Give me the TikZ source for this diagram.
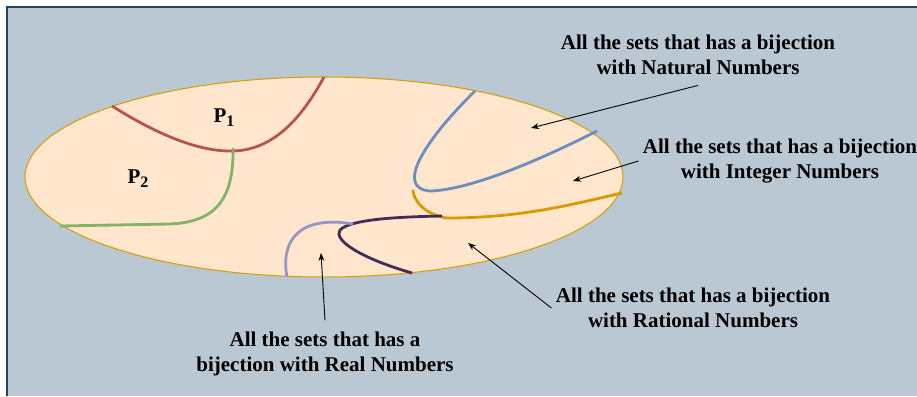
\documentclass[tikz,border=0pt]{standalone}
\usepackage{fontspec}
\setmainfont{Liberation Serif}
\usetikzlibrary{arrows.meta, positioning}
\definecolor{cpanel}{HTML}{BAC8D3}
\definecolor{cpanelline}{HTML}{23445D}
\definecolor{cset}{HTML}{FFE6CC}
\definecolor{corange}{HTML}{D79B00}
\definecolor{cred}{HTML}{B85450}
\definecolor{cgreen}{HTML}{82B366}
\definecolor{cblue}{HTML}{6C8EBF}
\definecolor{cdpurple}{HTML}{432D57}
\definecolor{clpurple}{HTML}{9A94C8}
\newcommand{\partsub}[1]{\raisebox{-4pt}{\fontsize{16}{16}\selectfont #1}}
\tikzset{
  every picture/.style={font=\bfseries\fontsize{21}{25}\selectfont, line width=1pt},
  cut/.style={draw=#1, line width=2.8pt},
  cut/.default=cred,
  arrow/.style={-{Stealth[length=8pt, width=6pt]}, draw=black, line width=0.9pt},
  note/.style={align=center, inner sep=4pt},
}

\begin{document}
\begin{tikzpicture}[x=1pt, y=-1pt]
  \useasboundingbox (0,0) rectangle (917,396);
  \fill[white] (0,0) rectangle (917,396);
  \fill[cpanel] (7,7) rectangle (917,396);
  \draw[cpanelline, line width=1.5pt] (917,7) -- (7,7) -- (7,396);
  \draw[draw=corange, fill=cset, line width=1pt] (324,177) ellipse [x radius=299pt, y radius=100pt];
  % partition P1 / P2
  \draw[cut=cred] (112,106) .. controls (150,130) and (195,152) .. (233,151)
    .. controls (278,150) and (306,110) .. (324,77);
  \draw[cut=cgreen] (233,148) .. controls (234,200) and (215,222) .. (170,224) -- (60,226);
  \node (p1) at (224,118) {P\partsub{1}};
  \node (p2) at (138,179) {P\partsub{2}};
  % nested classes
  \draw[cut=cblue] (475,91) .. controls (430,135) and (392,188) .. (430,191)
    .. controls (470,190) and (540,160) .. (597,131);
  \draw[cut=corange] (413,190) .. controls (413,200) and (425,215) .. (447,218)
    .. controls (520,218) and (570,205) .. (622,193);
  \draw[cut=cdpurple] (442,216) .. controls (390,217) and (350,220) .. (340,230)
    .. controls (333,240) and (360,258) .. (412,273);
  \draw[cut=clpurple] (353,224) .. controls (300,215) and (280,240) .. (287,277);
  \coordinate (natpt) at (531,128);
  \coordinate (intpt) at (573,181);
  \coordinate (ratpt) at (468,243);
  \coordinate (realpt) at (321,253);
  \node[note] (nat) at (698,55) {All the sets that has a bijection\\with Natural Numbers};
  \node[note] (int) at (780,161) {All the sets that has a bijection\\with Integer Numbers};
  \node[note] (rat) at (693,308) {All the sets that has a bijection\\with Rational Numbers};
  \node[note] (real) at (325,354) {All the sets that has a\\bijection with Real Numbers};
  \draw[arrow] ([yshift=-6pt]nat.south) -- (natpt);
  \draw[arrow] (int.west) -- (intpt);
  \draw[arrow] (rat.west) -- (ratpt);
  \draw[arrow] ([yshift=7pt]real.north) -- (realpt);
\end{tikzpicture}
\end{document}
